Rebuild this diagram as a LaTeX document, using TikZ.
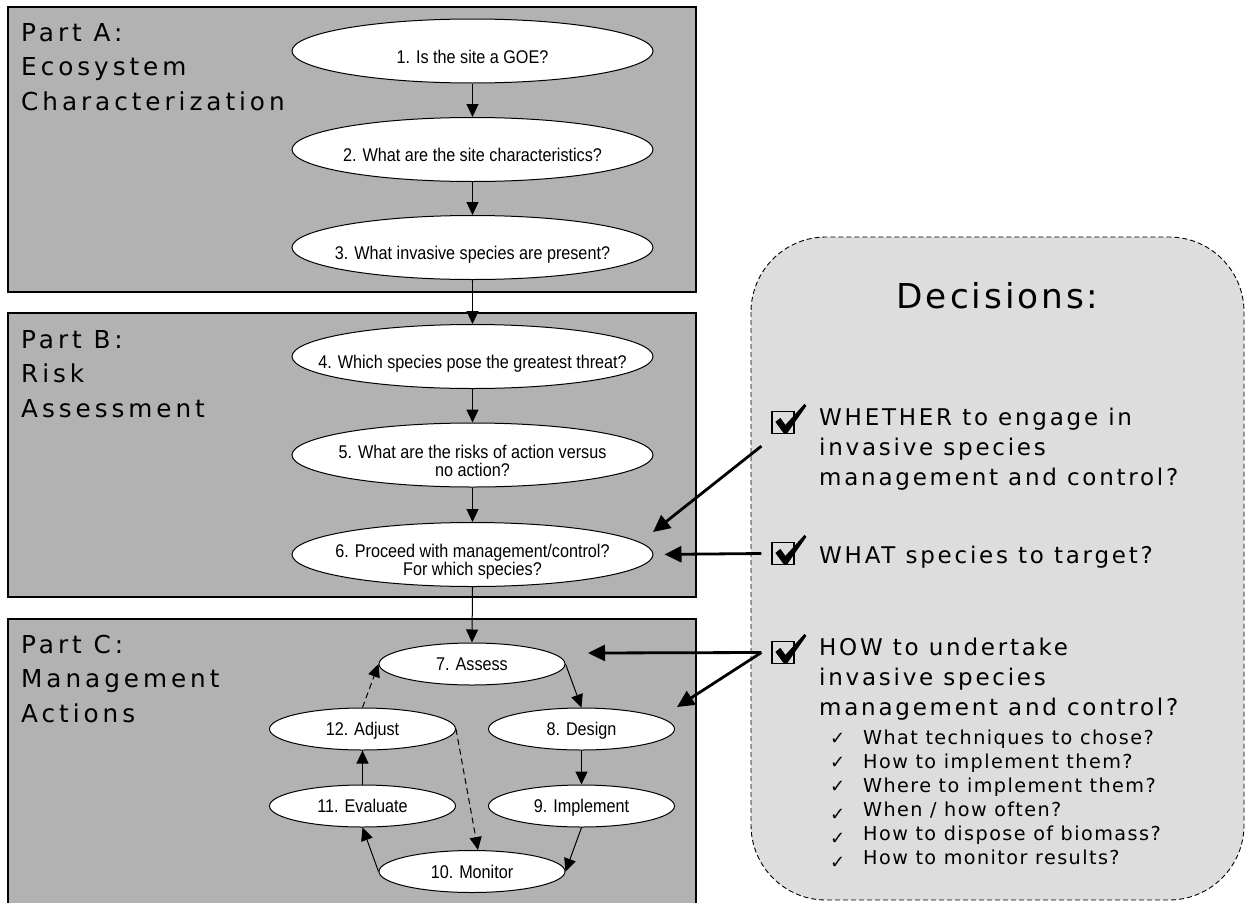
\documentclass[tikz,border=0pt]{standalone}
\usepackage{fontspec}
\setmainfont{Liberation Sans}
\newfontfamily\labfont[LetterSpace=16]{DejaVu Sans}
\newfontfamily\decfont[LetterSpace=12]{DejaVu Sans}
\newfontfamily\subfont[LetterSpace=7.5]{DejaVu Sans}
\newfontfamily\titfont[LetterSpace=8.5]{DejaVu Sans}
\newfontfamily\ellfont[FakeStretch=0.88]{Liberation Sans}
\newfontfamily\chkfont{DejaVu Sans}
\usetikzlibrary{shapes.geometric,arrows.meta,calc}
\definecolor{panelgray}{RGB}{178,178,178}
\definecolor{decgray}{RGB}{221,221,221}
\newcommand\vp{\vphantom{Apg}}
\newcommand\smallchk{\makebox[33pt][l]{\chkfont\fontsize{18}{18}\selectfont ✓}}
\newcommand\lowchk{\makebox[33pt][l]{\raisebox{-4pt}{\chkfont\fontsize{18}{18}\selectfont ✓}}}
\begin{document}
\begin{tikzpicture}[x=1pt,y=-1pt,
  panel/.style={draw, line width=1.2pt, fill=panelgray},
  bigell/.style={ellipse, draw, fill=white, line width=1pt, minimum width=361pt, minimum height=64pt, inner sep=0pt},
  smallell/.style={ellipse, draw, fill=white, line width=1pt, minimum width=186pt, minimum height=42pt, inner sep=0pt},
  etext/.style={font=\ellfont\fontsize{18.4}{18.3}\selectfont, align=center, inner sep=0pt},
  flow/.style={line width=1pt, -{Triangle[length=13pt,width=12pt]}},
  dflow/.style={flow, dash pattern=on 6pt off 4pt},
  bigarrow/.style={line width=2.8pt, -{Triangle[length=17pt,width=16pt]}},
  partlabel/.style={anchor=base west, align=left, inner sep=0pt, font=\labfont\fontsize{24.7}{34.5}\selectfont},
  cbox/.style={draw, line width=1.2pt, minimum size=22pt, inner sep=0pt},
  decitem/.style={anchor=base west, align=left, inner sep=0pt, font=\decfont\fontsize{23}{30}\selectfont},
  subitem/.style={anchor=base west, align=left, inner sep=0pt, font=\subfont\fontsize{19.2}{24}\selectfont},
  bigcheck/.pic={\fill (4,11) -- (9,7) -- (14,14) -- (33,-7) -- (35,-5) -- (16,22) -- (12,22) -- cycle;}
]
\useasboundingbox (0,0) rectangle (1246,902);
\clip (0,0) rectangle (1246,902);

% panels
\path[panel] (8,7) rectangle (696,292);
\path[panel] (8,313) rectangle (696,597);
\path[panel] (8,619) rectangle (696,930);
\path[draw, line width=0.9pt, dash pattern=on 5pt off 3pt, fill=decgray, rounded corners=75pt] (751,237) rectangle (1244,900);

% part labels (anchor = baseline of last line)
\node[partlabel] (la) at (21,110) {Part A:\\Ecosystem\\Characterization};
\node[partlabel] (lb) at (21,417) {Part B:\\Risk\\Assessment};
\node[partlabel] (lc) at (21,722) {Part C:\\Management\\Actions};

% flow ellipses
\node[bigell, label={[etext,yshift=-7.5pt]center:{1. Is the site a GOE?\vp}}] (e1) at (472.5,51) {};
\node[bigell, label={[etext,yshift=-7.5pt]center:{2. What are the site characteristics?\vp}}] (e2) at (472.5,149.5) {};
\node[bigell, label={[etext,yshift=-7.5pt]center:{3. What invasive species are present?\vp}}] (e3) at (472.5,247.5) {};
\node[bigell, label={[etext,yshift=-7.5pt]center:{4. Which species pose the greatest threat?\vp}}] (e4) at (472.5,356.5) {};
\node[bigell, label={[etext,yshift=-7.5pt]center:{5. What are the risks of action versus\vp\\no action?\vp}}] (e5) at (472.5,455) {};
\node[bigell, label={[etext,yshift=-7.5pt]center:{6. Proceed with management/control?\vp\\For which species?\vp}}] (e6) at (472.5,554.5) {};

\node[smallell, label={[etext,yshift=-2pt]center:{7. Assess\vp}}] (e7) at (472,664) {};
\node[smallell, label={[etext,yshift=-2pt]center:{8. Design\vp}}] (e8) at (581.5,729) {};
\node[smallell, label={[etext,yshift=-2pt]center:{9. Implement\vp}}] (e9) at (581.5,806) {};
\node[smallell, label={[etext,yshift=-2pt]center:{10. Monitor\vp}}] (e10) at (472,871.5) {};
\node[smallell, label={[etext,yshift=-2pt]center:{11. Evaluate\vp}}] (e11) at (362.5,806) {};
\node[smallell, label={[etext,yshift=-2pt]center:{12. Adjust\vp}}] (e12) at (362.5,729) {};

% flow connectors
\draw[flow] (e1.south) -- (e2.north);
\draw[flow] (e2.south) -- (e3.north);
\draw[flow] (e3.south) -- (e4.north);
\draw[flow] (e4.south) -- (e5.north);
\draw[flow] (e5.south) -- (e6.north);
\draw[flow] (e6.south) -- (e7.north);
\draw[flow] (e7.east) -- (e8.north);
\draw[flow] (e8.south) -- (e9.north);
\draw[flow] (e9.south) -- (e10.east);
\draw[flow] (e10.west) -- (e11.south);
\draw[flow] (e11.north) -- (e12.south);
\draw[dflow] (e12.north) -- (e7.west);
\draw[dflow] (e12.east) -- ($(e10.north)+(6,0)$);

% decisions
\node[anchor=base, inner sep=0pt, font=\titfont\fontsize{34.3}{40}\selectfont] (dt) at (997.5,308) {Decisions:};
\node[cbox] (cb1) at (783,422.5) {};
\node[cbox] (cb2) at (783,553.5) {};
\node[cbox] (cb3) at (783,652.5) {};
\pic at (cb1.north west) {bigcheck};
\pic at (cb2.north west) {bigcheck};
\pic at (cb3.north west) {bigcheck};
\node[decitem] (d1) at (819,485) {WHETHER to engage in\\invasive species\\management and control?};
\node[decitem] (d2) at (819,563) {WHAT species to target?};
\node[decitem] (d3) at (819,715) {HOW to undertake\\invasive species\\management and control?};
\node[subitem] (d4) at (830,864) {\smallchk What techniques to chose?\\\smallchk How to implement them?\\\smallchk Where to implement them?\\\lowchk When / how often?\\\lowchk How to dispose of biomass?\\\lowchk How to monitor results?};

% decision arrows
\coordinate (t1) at (653,532);
\coordinate (t3) at (588,653);
\coordinate (t4) at (677,707);
\draw[bigarrow] ($(cb1.south west)+(-10,12)$) -- (t1);
\draw[bigarrow, shorten >=11pt] ($(cb2.west)+(-10,0)$) -- (e6.east);
\draw[bigarrow] ($(cb3.west)+(-10,0)$) -- (t3);
\draw[bigarrow] ($(cb3.west)+(-10,0)$) -- (t4);
\end{tikzpicture}
\end{document}
